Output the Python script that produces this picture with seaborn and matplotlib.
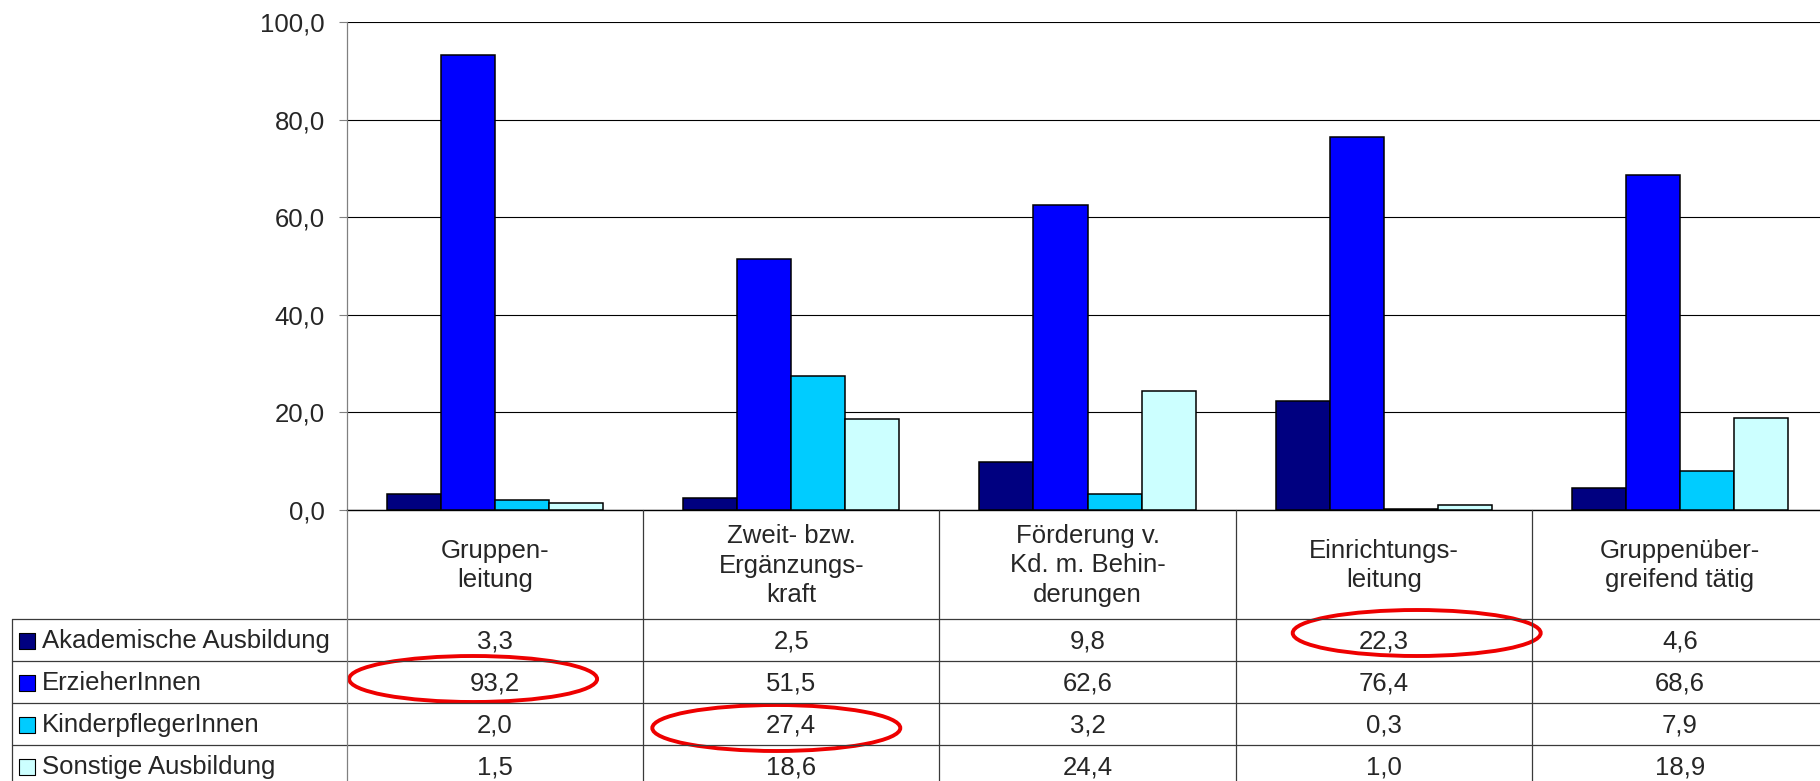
import pandas as pd
import matplotlib
matplotlib.use("Agg")
import matplotlib.pyplot as plt
from matplotlib.patches import Ellipse
from matplotlib.ticker import FuncFormatter
import seaborn as sns

#=============================================================================
# Data
#=============================================================================
categories = [
    "Gruppen-\nleitung",
    "Zweit- bzw.\nErgänzungs-\nkraft",
    "Förderung v.\nKd. m. Behin-\nderungen",
    "Einrichtungs-\nleitung",
    "Gruppenüber-\ngreifend tätig",
]
series = [
    "Akademische Ausbildung",
    "ErzieherInnen",
    "KinderpflegerInnen",
    "Sonstige Ausbildung",
]
akademisch = [3.3, 2.5, 9.8, 22.3, 4.6]
erzieher = [93.2, 51.5, 62.6, 76.4, 68.6]
kinderpfleger = [2.0, 27.4, 3.2, 0.3, 7.9]
sonstige = [1.5, 18.6, 24.4, 1.0, 18.9]
colors = ["#000080", "#0000ff", "#00ccff", "#ccffff"]

# highlighted cells (column index, row index)
highlights = [(0, 1), (1, 2), (3, 0)]

values = [akademisch, erzieher, kinderpfleger, sonstige]
rows = []
for s, vals in zip(series, values):
    for c, v in zip(categories, vals):
        rows.append({"Funktion": c, "Ausbildung": s, "Anteil": v})
df = pd.DataFrame(rows)

#=============================================================================
# Plot
#=============================================================================
sns.set_style("white")
plt.rcParams["font.family"] = ["Liberation Sans", "DejaVu Sans"]
FS = 18.5

W, H = 1820, 781
fig = plt.figure(figsize=(W / 100, H / 100), dpi=100)

# main axes in pixel layout: left 347, right 1828 (cut by figure), top 22, zero 510
ax_left, ax_right, ax_top, ax_bottom = 347, 1828, 22, 510
ax = fig.add_axes([ax_left / W, 1 - ax_bottom / H,
                   (ax_right - ax_left) / W, (ax_bottom - ax_top) / H])

sns.barplot(
    data=df, x="Funktion", y="Anteil", hue="Ausbildung",
    palette=colors, saturation=1, width=0.73, edgecolor="black",
    linewidth=1.1, legend=False, ax=ax, zorder=3
)
ax.set_ylim(0, 100)
ax.set_xlim(-0.5, len(categories) - 0.5)
ax.set_yticks([0, 20, 40, 60, 80, 100])
ax.yaxis.set_major_formatter(FuncFormatter(lambda v, p: f"{v:.1f}".replace(".", ",")))
ax.yaxis.grid(True, color="black", linewidth=0.8, zorder=0)
ax.set_axisbelow(True)
ax.tick_params(axis="y", which="major", left=True, length=6, width=0.8,
               color="#808080", pad=10, labelsize=FS)
ax.tick_params(axis="x", bottom=False, labelbottom=False)
ax.set_xlabel("")
ax.set_ylabel("")
for side in ["top", "right"]:
    ax.spines[side].set_visible(False)
ax.spines["left"].set_color("#808080")
ax.spines["left"].set_linewidth(0.9)
ax.spines["bottom"].set_color("black")
ax.spines["bottom"].set_linewidth(1.0)

#=============================================================================
# Data table below the chart (overlay in pixel coordinates)
#=============================================================================
ov = fig.add_axes([0, 0, 1, 1])
ov.set_xlim(0, W)
ov.set_ylim(H, 0)
ov.axis("off")
ov.patch.set_visible(False)

line_col = "#3a3a3a"
tab_left = 12
header_bottom = 619
row_h = 42
n_cols = len(categories)

def col_x(i):
    # pixel x of data position i on the main axes
    return ax.transData.transform((i, 0))[0]

bounds = [col_x(i - 0.5) for i in range(n_cols + 1)]
centers = [col_x(i) for i in range(n_cols)]
row_lines = [header_bottom + k * row_h for k in range(len(series) + 1)]

# horizontal lines
for y in row_lines:
    ov.plot([tab_left, W], [y, y], color=line_col, lw=0.9, clip_on=False)
# vertical lines
ov.plot([tab_left, tab_left], [header_bottom, H], color=line_col, lw=0.9)
ov.plot([bounds[0], bounds[0]], [ax_bottom, H], color="#808080", lw=0.9)
for x in bounds[1:]:
    ov.plot([x, x], [ax_bottom, H], color=line_col, lw=0.9)

# header texts
for c, x in zip(categories, centers):
    ov.text(x, (ax_bottom + header_bottom) / 2 + 1, c, ha="center", va="center",
            multialignment="center", fontsize=FS, linespacing=1.3)

# row labels with colour keys and values
for r, (s, vals, col) in enumerate(zip(series, values, colors)):
    yc = header_bottom + (r + 0.5) * row_h + 1
    ov.scatter([27], [yc], marker="s", s=140, color=col, edgecolors="black",
               linewidths=0.8, clip_on=False)
    ov.text(42, yc, s, ha="left", va="center", fontsize=FS)
    for x, v in zip(centers, vals):
        ov.text(x, yc, f"{v:.1f}".replace(".", ","), ha="center",
                va="center", fontsize=FS)

# red hand-drawn style ellipses around highlighted cells
ell_shift = {(0, 1): (-22, -3), (1, 2): (-15, 4), (3, 0): (33, -7)}
for ci, ri in highlights:
    dx, dy = ell_shift[(ci, ri)]
    xc = centers[ci] + dx
    yc = header_bottom + (ri + 0.5) * row_h + dy
    ov.add_patch(Ellipse((xc, yc), 248, 46, fill=False, edgecolor="#ee0000",
                         lw=2.8, clip_on=False))

plt.savefig("out.png", dpi=100)
